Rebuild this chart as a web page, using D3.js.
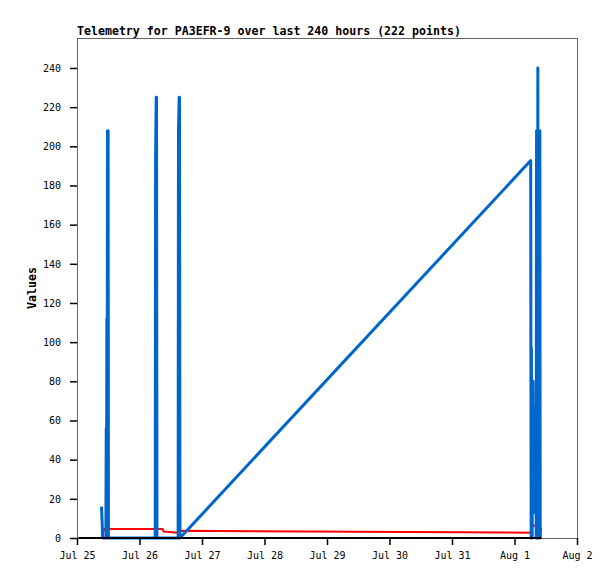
<!DOCTYPE html>
<html>
<head>
<meta charset="utf-8">
<script src="https://cdn.jsdelivr.net/npm/d3@7"></script>
<style>
  body { margin: 0; background: #fff; }
  svg { display: block; }
  .tick text { font-family: "DejaVu Sans Mono", monospace; font-size: 10px; fill: #000; }
  .tick line { stroke: #000; }
  .title, .ylabel { font-family: "DejaVu Sans Mono", monospace; font-weight: bold; font-size: 11.6px; }
</style>
</head>
<body>
<div id="chart"></div>
<script>
// telemetry channels, times are local "YYYY-MM-DD HH:MM"
var blueTimes = [
  "2020-07-25 09:24", "2020-07-25 09:40", "2020-07-25 09:50", "2020-07-25 11:05",
  "2020-07-25 11:14", "2020-07-25 11:20", "2020-07-25 11:28", "2020-07-25 11:34",
  "2020-07-25 11:42", "2020-07-25 11:50", "2020-07-25 11:57", "2020-07-25 12:04",
  "2020-07-25 12:10",
  "2020-07-26 06:02", "2020-07-26 06:10", "2020-07-26 06:25", "2020-07-26 06:32",
  "2020-07-26 06:42",
  "2020-07-26 14:50", "2020-07-26 14:58", "2020-07-26 15:14", "2020-07-26 15:21",
  "2020-07-26 15:32",
  "2020-08-01 06:13", "2020-08-01 06:18", "2020-08-01 06:24", "2020-08-01 06:30",
  "2020-08-01 06:36", "2020-08-01 06:42", "2020-08-01 06:48", "2020-08-01 06:54",
  "2020-08-01 07:00", "2020-08-01 07:08", "2020-08-01 07:16", "2020-08-01 07:24",
  "2020-08-01 07:32", "2020-08-01 07:40", "2020-08-01 07:48", "2020-08-01 07:56",
  "2020-08-01 08:04", "2020-08-01 08:12", "2020-08-01 08:20", "2020-08-01 08:28",
  "2020-08-01 08:36", "2020-08-01 08:44", "2020-08-01 08:52", "2020-08-01 08:58",
  "2020-08-01 09:04", "2020-08-01 09:12", "2020-08-01 09:20", "2020-08-01 09:28",
  "2020-08-01 09:36", "2020-08-01 09:44", "2020-08-01 09:52", "2020-08-01 10:00"
];
var blueValues = [
  16, 8, 0, 0,
  56, 0, 112, 0,
  208, 0, 208, 0,
  0,
  0, 192, 225, 225,
  0,
  0, 208, 225, 225,
  0,
  192.7, 97, 0, 97,
  0, 80, 0, 80,
  13, 80, 20, 67,
  13, 67, 20, 67,
  40, 67, 0, 208,
  0, 208, 0, 240,
  0, 208, 0, 208,
  0, 208, 0, 5
];

var redTimes = [
  "2020-07-25 10:06", "2020-07-25 10:22", "2020-07-25 12:05", "2020-07-26 06:02",
  "2020-07-26 08:55", "2020-07-26 09:13", "2020-07-26 11:43", "2020-07-26 13:15",
  "2020-07-26 14:52", "2020-07-26 15:56", "2020-08-01 06:14", "2020-08-01 06:28",
  "2020-08-01 07:07", "2020-08-01 08:23", "2020-08-01 10:23"
];
var redValues = [
  3.0, 4.6, 4.6, 4.6,
  4.6, 3.3, 3.1, 2.8,
  2.8, 3.7, 2.7, 7.0,
  6.3, 6.3, 4.6
];

var blackTimes = [
  "2020-07-25 00:30", "2020-07-25 12:05", "2020-07-26 06:02",
  "2020-07-26 15:56", "2020-08-01 06:14", "2020-08-01 10:23"
];
var blackValues = [0, 0, 0, 0, 0, 0];

var xTickDays = ["2020-07-25", "2020-07-26", "2020-07-27", "2020-07-28", "2020-07-29",
                 "2020-07-30", "2020-07-31", "2020-08-01", "2020-08-02"];
var xTickLabels = ["Jul 25", "Jul 26", "Jul 27", "Jul 28", "Jul 29",
                   "Jul 30", "Jul 31", "Aug 1", "Aug 2"];
var yTicks = [0, 20, 40, 60, 80, 100, 120, 140, 160, 180, 200, 220, 240];
var yMax = 255.3;

var titleText = "Telemetry for PA3EFR-9 over last 240 hours (222 points)";
var yLabelText = "Values";

/////////////////////////////////////////////////////////////////////

var W = 615, H = 579;
var margin = {top: 38, right: 38, bottom: 41, left: 77};
var w = W - margin.left - margin.right;
var h = H - margin.top - margin.bottom;

var parseTime = d3.timeParse("%Y-%m-%d %H:%M");
var parseDay = d3.timeParse("%Y-%m-%d");

function zipSeries(times, values) {
  return times.map(function(t, i) { return {t: parseTime(t), v: values[i]}; });
}

var series = [
  {data: zipSeries(redTimes, redValues), color: "#ff0000", width: 2},
  {data: zipSeries(blueTimes, blueValues), color: "#0066cc", width: 3},
  {data: zipSeries(blackTimes, blackValues), color: "#000000", width: 2}
];

var dayDates = xTickDays.map(parseDay);

var x = d3.scaleTime()
  .domain([dayDates[0], dayDates[dayDates.length - 1]])
  .range([0, w]);

var y = d3.scaleLinear()
  .domain([0, yMax])
  .range([h, 0]);

var svg = d3.select("#chart").append("svg")
  .attr("width", W)
  .attr("height", H);

var g = svg.append("g")
  .attr("transform", "translate(" + margin.left + "," + margin.top + ")");

// frame
g.append("rect")
  .attr("x", 0.5)
  .attr("y", 0.5)
  .attr("width", w)
  .attr("height", h)
  .attr("fill", "none")
  .attr("stroke", "#666")
  .attr("stroke-width", 1);

// lines
var line = d3.line()
  .x(function(d) { return x(d.t); })
  .y(function(d) { return y(d.v); });

series.forEach(function(s) {
  g.append("path")
    .datum(s.data)
    .attr("d", line)
    .attr("fill", "none")
    .attr("stroke", s.color)
    .attr("stroke-width", s.width)
    .attr("stroke-linejoin", "round");
});

// axes
var xAxis = d3.axisBottom(x)
  .tickValues(dayDates)
  .tickFormat(function(d, i) { return xTickLabels[i]; })
  .tickSizeInner(7)
  .tickSizeOuter(0)
  .tickPadding(7);

var yAxis = d3.axisLeft(y)
  .tickValues(yTicks)
  .tickFormat(d3.format("d"))
  .tickSizeInner(7)
  .tickSizeOuter(0)
  .tickPadding(9);

var gx = g.append("g")
  .attr("transform", "translate(0," + h + ")")
  .call(xAxis);
gx.select(".domain").remove();
gx.selectAll(".tick line").attr("stroke-width", 1.5);

var gy = g.append("g").call(yAxis);
gy.select(".domain").remove();
gy.selectAll(".tick line").attr("stroke-width", 1.5);

// title and y label
svg.append("text")
  .attr("class", "title")
  .attr("x", margin.left)
  .attr("y", 35)
  .text(titleText);

svg.append("text")
  .attr("class", "ylabel")
  .attr("transform", "translate(36," + (margin.top + h / 2) + ") rotate(-90)")
  .attr("text-anchor", "middle")
  .text(yLabelText);
</script>
</body>
</html>
